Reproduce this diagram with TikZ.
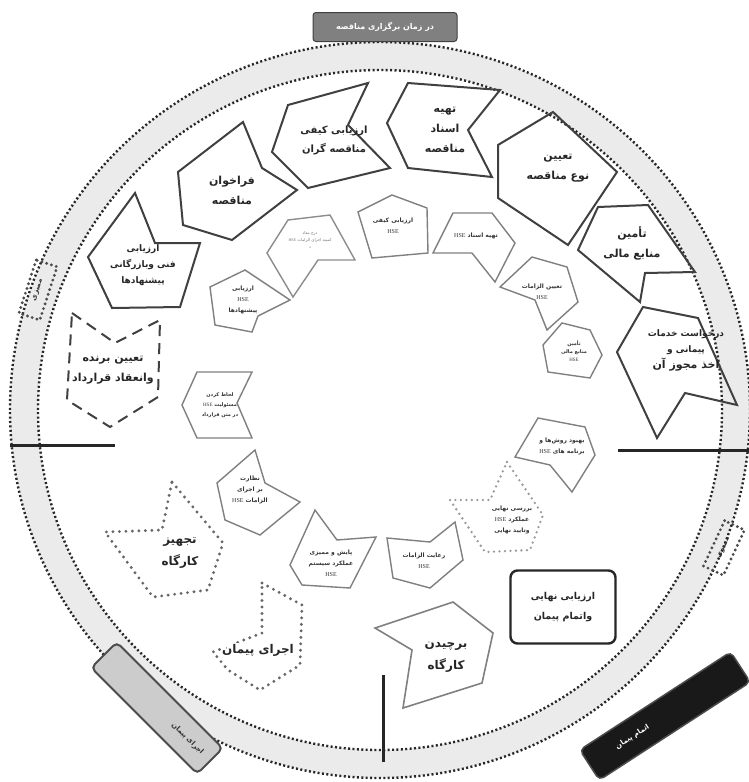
\documentclass[tikz,border=0pt]{standalone}
\usepackage{fontspec}
\setmainfont{DejaVu Sans}
\newfontfamily\fa[Script=Arabic]{DejaVu Sans}
\newfontfamily\hse{Liberation Serif}
\TeXXeTstate=1
\newcommand\rl[1]{\beginR#1\endR}
\newcommand\HSE{\beginL{\hse\mdseries HSE}\endL}
\tikzset{
 outer/.style={draw=black!75, line width=2pt, line join=miter},
 inner/.style={draw=black!50, line width=1.4pt, line join=miter},
 bigdots/.style={draw=black!60, line width=3.2pt, dash pattern=on 0pt off 6.5pt, line cap=round},
 graydots/.style={draw=black!40, line width=2.6pt, dash pattern=on 0pt off 5.5pt, line cap=round},
 ring/.style={draw=black!85, line width=2.4pt, dash pattern=on 2pt off 2.4pt},
 otext/.style={font=\fa\bfseries\fontsize{11}{20}\selectfont, align=center, text=black!85},
 mtext/.style={font=\fa\bfseries\fontsize{9}{16}\selectfont, align=center, text=black!85},
 itext/.style={font=\fa\bfseries\fontsize{6}{11}\selectfont, align=center, text=black!80},
 bar/.style={line width=3pt, draw=black!85},
 marker/.style={draw=black!70, line width=3.2pt, dash pattern=on 0pt off 5pt, line cap=round, minimum width=56pt, minimum height=22pt, font=\fa\bfseries\fontsize{7}{8}\selectfont, text=black!80},
}
\begin{document}
\begin{tikzpicture}[x=1pt,y=-1pt]
\useasboundingbox (0,0) rectangle (749,782);
\fill[white] (0,0) rectangle (749,782);
% ring
\fill[black!8, even odd rule] (380,410) ellipse [x radius=370pt, y radius=368pt] (380,410) ellipse [x radius=342pt, y radius=340pt];
\draw[ring] (380,410) ellipse [x radius=370pt, y radius=368pt];
\draw[ring] (380,410) ellipse [x radius=342pt, y radius=340pt];

% top label
\node[fill=black!50, draw=black!75, line width=1pt, rounded corners=3pt, minimum width=144pt, minimum height=29pt, text=white, font=\fa\bfseries\fontsize{8}{10}\selectfont] (toplbl) at (385,27) {\rl{در زمان برگزاری مناقصه}};

% bars
\coordinate (la) at (10,445); \coordinate (lb) at (115,445);
\coordinate (ra) at (618,450); \coordinate (rb) at (749,450);
\coordinate (va) at (383,675); \coordinate (vb) at (383,762);
\draw[bar] (la) -- (lb);
\draw[bar] (ra) -- (rb);
\draw[bar] (va) -- (vb);

% outer shapes
\draw[outer] (408,83) -- (500,90) -- (468,130) -- (492,177) -- (408,168) -- (387,123) -- cycle;
\node[otext] (tahie) at (445,130) {\rl{تهیه}\\\rl{اسناد}\\\rl{مناقصه}};

\draw[outer] (288,105) -- (368,83) -- (348,125) -- (390,168) -- (308,188) -- (272,152) -- cycle;
\node[otext, font=\fa\bfseries\fontsize{10}{19}\selectfont] (keyfi) at (334,140) {\rl{ارزیابی کیفی}\\\rl{مناقصه گران}};

\draw[outer] (243,122) -- (262,168) -- (297,190) -- (232,240) -- (183,225) -- (178,172) -- cycle;
\node[otext] (farakhan) at (232,190) {\rl{فراخوان}\\\rl{مناقصه}};

\draw[outer] (498,145) -- (553,112) -- (617,172) -- (568,245) -- (498,198) -- cycle;
\node[otext] (noe) at (558,168) {\rl{تعیین}\\\rl{نوع مناقصه}};

\draw[outer] (598,207) -- (648,205) -- (695,272) -- (645,273) -- (640,302) -- (578,250) -- cycle;
\node[otext] (tamin) at (632,243) {\rl{تأمین}\\\rl{منابع مالی}};

\draw[outer] (643,307) -- (698,318) -- (737,405) -- (685,393) -- (657,438) -- (617,352) -- cycle;
\node[mtext] (darkhast) at (686,350) {\rl{درخواست خدمات}\\\rl{پیمانی و}\\{\fontsize{11}{16}\selectfont\rl{اخذ مجوز آن}}};

\draw[outer] (135,193) -- (155,243) -- (200,243) -- (180,307) -- (112,308) -- (88,257) -- cycle;
\node[mtext] (fani) at (143,265) {\rl{ارزیابی}\\\rl{فنی وبازرگانی}\\\rl{پیشنهادها}};

\draw[outer, dash pattern=on 11pt off 7pt] (72,313) -- (115,343) -- (160,320) -- (158,397) -- (110,427) -- (67,400) -- cycle;
\node[otext] (barande) at (113,370) {\rl{تعیین برنده}\\\rl{وانعقاد قرارداد}};

\draw[bigdots] (172,482) -- (223,543) -- (208,590) -- (153,597) -- (105,532) -- (162,530) -- cycle;
\node[otext, font=\fa\bfseries\fontsize{12}{22}\selectfont] (tajhiz) at (180,553) {\rl{تجهیز}\\\rl{کارگاه}};

\draw[bigdots] (262,583) -- (302,605) -- (300,665) -- (260,690) -- (228,670) -- (213,652) -- (262,633) -- cycle;
\node[otext, font=\fa\bfseries\fontsize{12}{20}\selectfont, fill=white, inner sep=1pt] (ejra) at (258,650) {\rl{اجرای پیمان}};

\draw[inner, line width=1.6pt] (375,628) -- (453,602) -- (493,633) -- (482,683) -- (403,708) -- (412,650) -- cycle;
\node[otext, font=\fa\bfseries\fontsize{12}{22}\selectfont] (barchidan) at (446,657) {\rl{برچیدن}\\\rl{کارگاه}};

\node[draw=black!85, line width=2.4pt, rounded corners=7pt, minimum width=105pt, minimum height=73pt, mtext, font=\fa\bfseries\fontsize{9.5}{20}\selectfont] (nahaee) at (563,607) {\rl{ارزیابی نهایی}\\\rl{واتمام پیمان}};

% inner shapes
\draw[inner] (358,212) -- (392,195) -- (427,208) -- (428,253) -- (372,258) -- cycle;
\node[itext] (a) at (393,226) {\rl{ارزیابی کیفی}\\\HSE};

\draw[inner] (453,213) -- (492,213) -- (515,243) -- (495,282) -- (472,253) -- (433,253) -- cycle;
\node[itext] (b) at (476,236) {\rl{تهیه اسناد \HSE}};

\draw[inner] (500,287) -- (532,257) -- (567,267) -- (578,302) -- (547,330) -- (535,300) -- cycle;
\node[itext] (c) at (542,292) {\rl{تعیین الزامات}\\\HSE};

\draw[inner] (543,345) -- (562,323) -- (590,330) -- (602,355) -- (590,378) -- (548,372) -- cycle;
\node[itext, font=\fa\bfseries\fontsize{5}{8}\selectfont] (d) at (574,351) {\rl{تأمین}\\\rl{منابع مالی}\\\HSE};

\draw[inner] (538,418) -- (585,427) -- (595,455) -- (572,492) -- (550,465) -- (515,457) -- cycle;
\node[itext] (e) at (562,446) {\rl{بهبود روش‌ها و}\\\rl{برنامه های \HSE}};

\draw[graydots] (507,462) -- (543,515) -- (530,550) -- (485,552) -- (450,500) -- (490,500) -- cycle;
\node[itext] (f) at (512,520) {\rl{بررسی نهایی}\\\rl{عملکرد \HSE}\\\rl{وتایید نهایی}};

\draw[inner] (387,538) -- (430,542) -- (455,522) -- (463,560) -- (430,588) -- (393,578) -- cycle;
\node[itext] (g) at (424,561) {\rl{رعایت الزامات}\\\HSE};

\draw[inner] (315,510) -- (337,540) -- (376,537) -- (350,588) -- (302,585) -- (290,565) -- cycle;
\node[itext] (h) at (331,563) {\rl{پایش و ممیزی}\\\rl{عملکرد سیستم}\\\HSE};

\draw[inner] (255,450) -- (265,483) -- (300,502) -- (260,535) -- (225,520) -- (217,483) -- cycle;
\node[itext] (i) at (250,490) {\rl{نظارت}\\\rl{بر اجرای}\\\rl{الزامات \HSE}};

\draw[inner] (197,372) -- (252,372) -- (237,403) -- (252,438) -- (197,438) -- (182,405) -- cycle;
\node[itext, font=\fa\bfseries\fontsize{5}{10}\selectfont] (j) at (220,405) {\rl{لحاظ کردن}\\\rl{مسئولیت \HSE}\\\rl{در متن قرارداد}};

\draw[inner] (210,287) -- (245,270) -- (290,300) -- (258,316) -- (252,332) -- (215,325) -- cycle;
\node[itext] (k) at (243,300) {\rl{ارزیابی}\\\HSE\\\rl{پیشنهادها}};

\draw[inner, draw=black!45] (288,220) -- (330,215) -- (355,260) -- (318,260) -- (293,297) -- (267,253) -- cycle;
\node[itext, font=\fa\fontsize{4}{7}\selectfont, text=black!55] (l) at (310,240) {\rl{درج مفاد}\\\rl{کمیته اجرای الزامات \HSE}\\\rl{د}};

% bottom labels
\node[draw=black!70, fill=black!20, line width=2pt, rounded corners=5pt, minimum width=150pt, minimum height=36pt, text width=128pt, align=right, rotate=-45, font=\fa\bfseries\fontsize{7}{9}\selectfont, text=black!80] (lblL) at (157,708) {\rl{اجرای پیمان}};
\node[draw=black!70, fill=black!90, line width=1.5pt, rounded corners=5pt, minimum width=180pt, minimum height=36pt, text width=160pt, align=left, rotate=33, font=\fa\bfseries\fontsize{7}{9}\selectfont, text=white] (lblR) at (665,716) {\hspace*{22pt}\rl{اتمام پیمان}};

% audit markers
\node[marker, rotate=72] (m1) at (38,290) {\rl{ممیزی}};
\node[marker, rotate=65, minimum width=50pt] (m2) at (724,548) {\rl{ممیزی}};
\end{tikzpicture}
\end{document}
